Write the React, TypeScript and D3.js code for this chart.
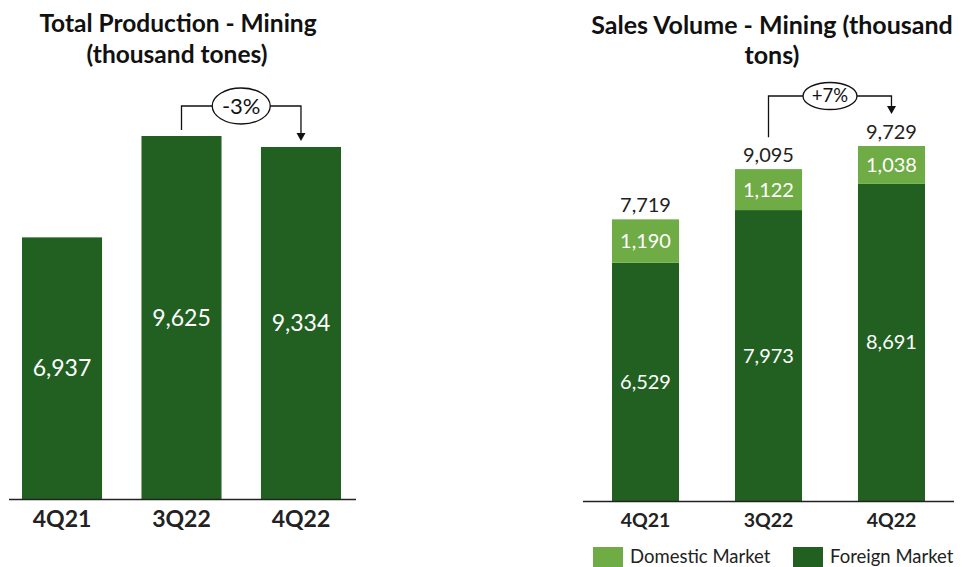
import React from "react";
import * as d3 from "d3";

const categories = ["4Q21", "3Q22", "4Q22"];
const production = [6937, 9625, 9334];
const foreignMarket = [6529, 7973, 8691];
const domesticMarket = [1190, 1122, 1038];
const salesTotal = [7719, 9095, 9729];
const productionChange = "-3%";
const salesChange = "+7%";
const legendLabels = ["Domestic Market", "Foreign Market"];

const DARK = "#226022";
const LIGHT = "#6FAC46";
const FONT = "Lato, 'Open Sans', sans-serif";
const fmt = d3.format(",");

export default function App() {
  // Left chart scales
  const xL = d3.scaleBand<string>().domain(categories).range([22, 341]).paddingInner(0.33).paddingOuter(0);
  const yL = d3.scaleLinear().domain([0, 9625]).range([499, 136]);
  // Right chart scales
  const xR = d3.scaleBand<string>().domain(categories).range([612, 925]).paddingInner(0.455).paddingOuter(0);
  const yR = d3.scaleLinear().domain([0, 9729]).range([501, 146]);

  const lA = xL(categories[1])! + xL.bandwidth() / 2;
  const lB = xL(categories[2])! + xL.bandwidth() / 2;
  const lTop = 106;
  const lStart = yL(production[1]) - 6;
  const lEnd = yL(production[2]) - 6;

  const rA = xR(categories[1])! + xR.bandwidth() / 2;
  const rB = xR(categories[2])! + xR.bandwidth() / 2;
  const rTop = 96;
  const rStart = yR(salesTotal[1]) - 32;
  const rEnd = yR(salesTotal[2]) - 32;

  return (
    <svg width={967} height={567} style={{ position: "absolute", left: 0, top: 0, fontFamily: FONT }}>
      <rect width={967} height={567} fill="#fff" />
      {/* Left title */}
      <text x={178} y={32} textAnchor="middle" fontSize={24.5} fontWeight="bold" fill="#111">Total Production - Mining</text>
      <text x={177} y={63} textAnchor="middle" fontSize={24.5} fontWeight="bold" fill="#111">(thousand tones)</text>

      {/* Left bars */}
      {categories.map((c, i) => (
        <g key={"pl" + c}>
          <rect x={xL(c)} y={yL(production[i])} width={xL.bandwidth()} height={yL(0) - yL(production[i])} fill={DARK} />
          <text x={xL(c)! + xL.bandwidth() / 2} y={(yL(production[i]) + yL(0)) / 2} dy="0.35em" textAnchor="middle" fontSize={23} fill="#fff">{fmt(production[i])}</text>
          <text x={xL(c)! + xL.bandwidth() / 2} y={519} dy="0.35em" textAnchor="middle" fontSize={23} fontWeight="bold" fill="#222">{c}</text>
        </g>
      ))}
      <line x1={9} x2={356} y1={499.5} y2={499.5} stroke="#222" strokeWidth={1.5} />

      {/* Left annotation */}
      <path d={`M${lA},${lStart}V${lTop}H${lB}V${lEnd - 7}`} fill="none" stroke="#111" strokeWidth={1.3} />
      <path d={`M${lB - 4.5},${lEnd - 8}L${lB + 4.5},${lEnd - 8}L${lB},${lEnd}Z`} fill="#111" />
      <ellipse cx={(lA + lB) / 2} cy={lTop} rx={29} ry={18} fill="#fff" stroke="#111" strokeWidth={1.3} />
      <text x={(lA + lB) / 2} y={lTop} dy="0.35em" textAnchor="middle" fontSize={22} fill="#111">{productionChange}</text>

      {/* Right title */}
      <text x={772} y={34} textAnchor="middle" fontSize={25} fontWeight="bold" fill="#111">Sales Volume - Mining (thousand</text>
      <text x={772} y={64} textAnchor="middle" fontSize={25} fontWeight="bold" fill="#111">tons)</text>

      {/* Right stacked bars */}
      {categories.map((c, i) => {
        const cx = xR(c)! + xR.bandwidth() / 2;
        const fTop = yR(foreignMarket[i]);
        const dTop = yR(foreignMarket[i] + domesticMarket[i]);
        return (
          <g key={"sr" + c}>
            <rect x={xR(c)} y={fTop} width={xR.bandwidth()} height={yR(0) - fTop} fill={DARK} />
            <rect x={xR(c)} y={dTop} width={xR.bandwidth()} height={fTop - dTop} fill={LIGHT} />
            <text x={cx} y={(fTop + yR(0)) / 2} dy="0.35em" textAnchor="middle" fontSize={20} fill="#fff">{fmt(foreignMarket[i])}</text>
            <text x={cx} y={(dTop + fTop) / 2} dy="0.35em" textAnchor="middle" fontSize={20} fill="#fff">{fmt(domesticMarket[i])}</text>
            <text x={cx} y={yR(salesTotal[i]) - 14} dy="0.35em" textAnchor="middle" fontSize={20} fill="#222">{fmt(salesTotal[i])}</text>
            <text x={cx} y={520} dy="0.35em" textAnchor="middle" fontSize={19.5} fontWeight="bold" fill="#222">{c}</text>
          </g>
        );
      })}
      <line x1={583} x2={954} y1={501.5} y2={501.5} stroke="#222" strokeWidth={1.5} />

      {/* Right annotation */}
      <path d={`M${rA},${rStart}V${rTop}H${rB}V${rEnd - 7}`} fill="none" stroke="#111" strokeWidth={1.3} />
      <path d={`M${rB - 4.5},${rEnd - 8}L${rB + 4.5},${rEnd - 8}L${rB},${rEnd}Z`} fill="#111" />
      <ellipse cx={(rA + rB) / 2} cy={rTop} rx={27} ry={13.5} fill="#fff" stroke="#111" strokeWidth={1.3} />
      <text x={(rA + rB) / 2} y={rTop} dy="0.35em" textAnchor="middle" fontSize={18.5} fill="#111">{salesChange}</text>

      {/* Legend */}
      {legendLabels.map((l, i) => {
        const x0 = i === 0 ? 593 : 793;
        return (
          <g key={l}>
            <rect x={x0} y={547} width={30} height={20} fill={i === 0 ? LIGHT : DARK} />
            <text x={x0 + 37} y={557} dy="0.35em" fontSize={18.5} fill="#222">{l}</text>
          </g>
        );
      })}
    </svg>
  );
}
